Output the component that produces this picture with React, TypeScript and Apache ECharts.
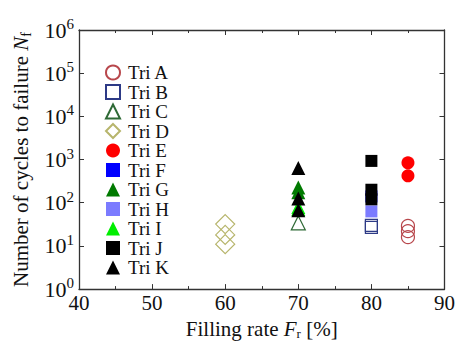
import React, { useEffect, useRef } from "react";
import * as echarts from "echarts";

const seriesNames = ["Tri A", "Tri B", "Tri C", "Tri D", "Tri E", "Tri F", "Tri G", "Tri H", "Tri I", "Tri J", "Tri K"];
const fillingRate = [85, 80, 70, 60, 85, 80, 70, 80, 70, 80, 70];
const triA = [29, 22, 16];
const triB = [30, 27];
const triC = [34];
const triD = [32, 18, 11];
const triE = [840, 420];
const triF = [140];
const triG = [225, 175];
const triH = [63];
const triI = [80, 72];
const triJ = [930, 200, 120];
const triK = [640, 126, 67];
const cycles = [triA, triB, triC, triD, triE, triF, triG, triH, triI, triJ, triK];
const xTicks = [40, 50, 60, 70, 80, 90];
const yExponents = [0, 1, 2, 3, 4, 5, 6];

const styles = [
  { symbol: "circle", size: 13, color: "#b8474c", hollow: true },
  { symbol: "rect", size: 12, color: "#2d3a86", hollow: true },
  { symbol: "triangle", size: 14, color: "#2f6a36", hollow: true },
  { symbol: "diamond", size: 19, color: "#b7b56c", hollow: true },
  { symbol: "circle", size: 13, color: "#ff0000", hollow: false },
  { symbol: "rect", size: 12, color: "#0000ff", hollow: false },
  { symbol: "triangle", size: 14, color: "#007a00", hollow: false },
  { symbol: "rect", size: 12, color: "#7b7bff", hollow: false },
  { symbol: "triangle", size: 14, color: "#00ee00", hollow: false },
  { symbol: "rect", size: 12, color: "#000000", hollow: false },
  { symbol: "triangle", size: 14, color: "#000000", hollow: false },
];

const FONT = "Liberation Serif";

export default function App() {
  const ref = useRef<HTMLDivElement>(null);
  useEffect(() => {
    const chart = echarts.init(ref.current!, null, { renderer: "svg" });
    const axisLine = { show: true, lineStyle: { color: "#333", width: 1.3 } };
    const series = seriesNames.map((name, i) => {
      const s = styles[i];
      return {
        name,
        type: "scatter",
        symbol: s.symbol,
        symbolSize: s.size,
        data: cycles[i].map((v) => [fillingRate[i], v]),
        itemStyle: s.hollow
          ? { color: "rgba(255,255,255,0)", borderColor: s.color, borderWidth: 1.2, opacity: 1 }
          : { color: s.color, opacity: 1 },
        z: i + 2,
      };
    });
    chart.setOption({
      animation: false,
      backgroundColor: "#fff",
      textStyle: { fontFamily: FONT },
      grid: { left: 79, right: 12, top: 30, bottom: 52 },
      legend: {
        orient: "vertical",
        left: 100,
        top: 58,
        itemGap: 0.5,
        itemWidth: 14,
        itemHeight: 14,
        textStyle: { fontFamily: FONT, fontSize: 19, color: "#111", lineHeight: 18, padding: [0, 0, 0, 3] },
        data: seriesNames.map((n, i) => ({
          name: n,
          icon: styles[i].symbol,
        })),
      },
      xAxis: [
        {
          type: "value",
          min: xTicks[0],
          max: xTicks[xTicks.length - 1],
          interval: 10,
          axisLine,
          axisTick: { show: true, inside: true, length: 5, lineStyle: { color: "#333" } },
          minorTick: { show: true, splitNumber: 2, length: 3, lineStyle: { color: "#333" } },
          splitLine: { show: false },
          axisLabel: { fontFamily: FONT, fontSize: 21, color: "#111", margin: 3 },
          name: "{a|Filling rate }{i|F}{s|r}{a| [%]}",
          nameLocation: "middle",
          nameGap: 24,
          nameTextStyle: {
            rich: {
              a: { fontFamily: FONT, fontSize: 21, color: "#111" },
              i: { fontFamily: FONT, fontSize: 21, fontStyle: "italic", color: "#111" },
              s: { fontFamily: FONT, fontSize: 13, color: "#111", padding: [10, 0, 0, 0] },
            },
          },
        },
        {
          type: "value",
          position: "top",
          min: xTicks[0],
          max: xTicks[xTicks.length - 1],
          interval: 10,
          axisLine,
          axisTick: { show: true, inside: true, length: 5, lineStyle: { color: "#333" } },
          minorTick: { show: true, splitNumber: 2, length: 3, lineStyle: { color: "#333" } },
          splitLine: { show: false },
          axisLabel: { show: false },
        },
      ],
      yAxis: [
        {
          type: "log",
          logBase: 10,
          min: Math.pow(10, yExponents[0]),
          max: Math.pow(10, yExponents[yExponents.length - 1]),
          axisLine,
          axisTick: { show: true, inside: true, length: 5, lineStyle: { color: "#333" } },
          splitLine: { show: false },
          axisLabel: {
            margin: 5,
            fontFamily: FONT,
            formatter: (v: number) => `{b|10}{s|${Math.round(Math.log10(v))}}`,
            rich: {
              b: { fontFamily: FONT, fontSize: 22, color: "#111" },
              s: { fontFamily: FONT, fontSize: 15, color: "#111", padding: [0, 0, 12, 0] },
            },
          },
          name: "{a|Number of cycles to failure }{i|N}{s|f}",
          nameLocation: "middle",
          nameRotate: 90,
          nameGap: 46,
          nameTextStyle: {
            rich: {
              a: { fontFamily: FONT, fontSize: 21, color: "#111" },
              i: { fontFamily: FONT, fontSize: 21, fontStyle: "italic", color: "#111" },
              s: { fontFamily: FONT, fontSize: 14, color: "#111", padding: [10, 0, 0, 0] },
            },
          },
        },
        {
          type: "log",
          logBase: 10,
          position: "right",
          min: Math.pow(10, yExponents[0]),
          max: Math.pow(10, yExponents[yExponents.length - 1]),
          axisLine,
          axisTick: { show: true, inside: true, length: 5, lineStyle: { color: "#333" } },
          splitLine: { show: false },
          axisLabel: { show: false },
        },
      ],
      series,
    });
    return () => chart.dispose();
  }, []);
  return <div ref={ref} style={{ width: 458, height: 345, position: "fixed", left: 0, top: 0 }} />;
}
